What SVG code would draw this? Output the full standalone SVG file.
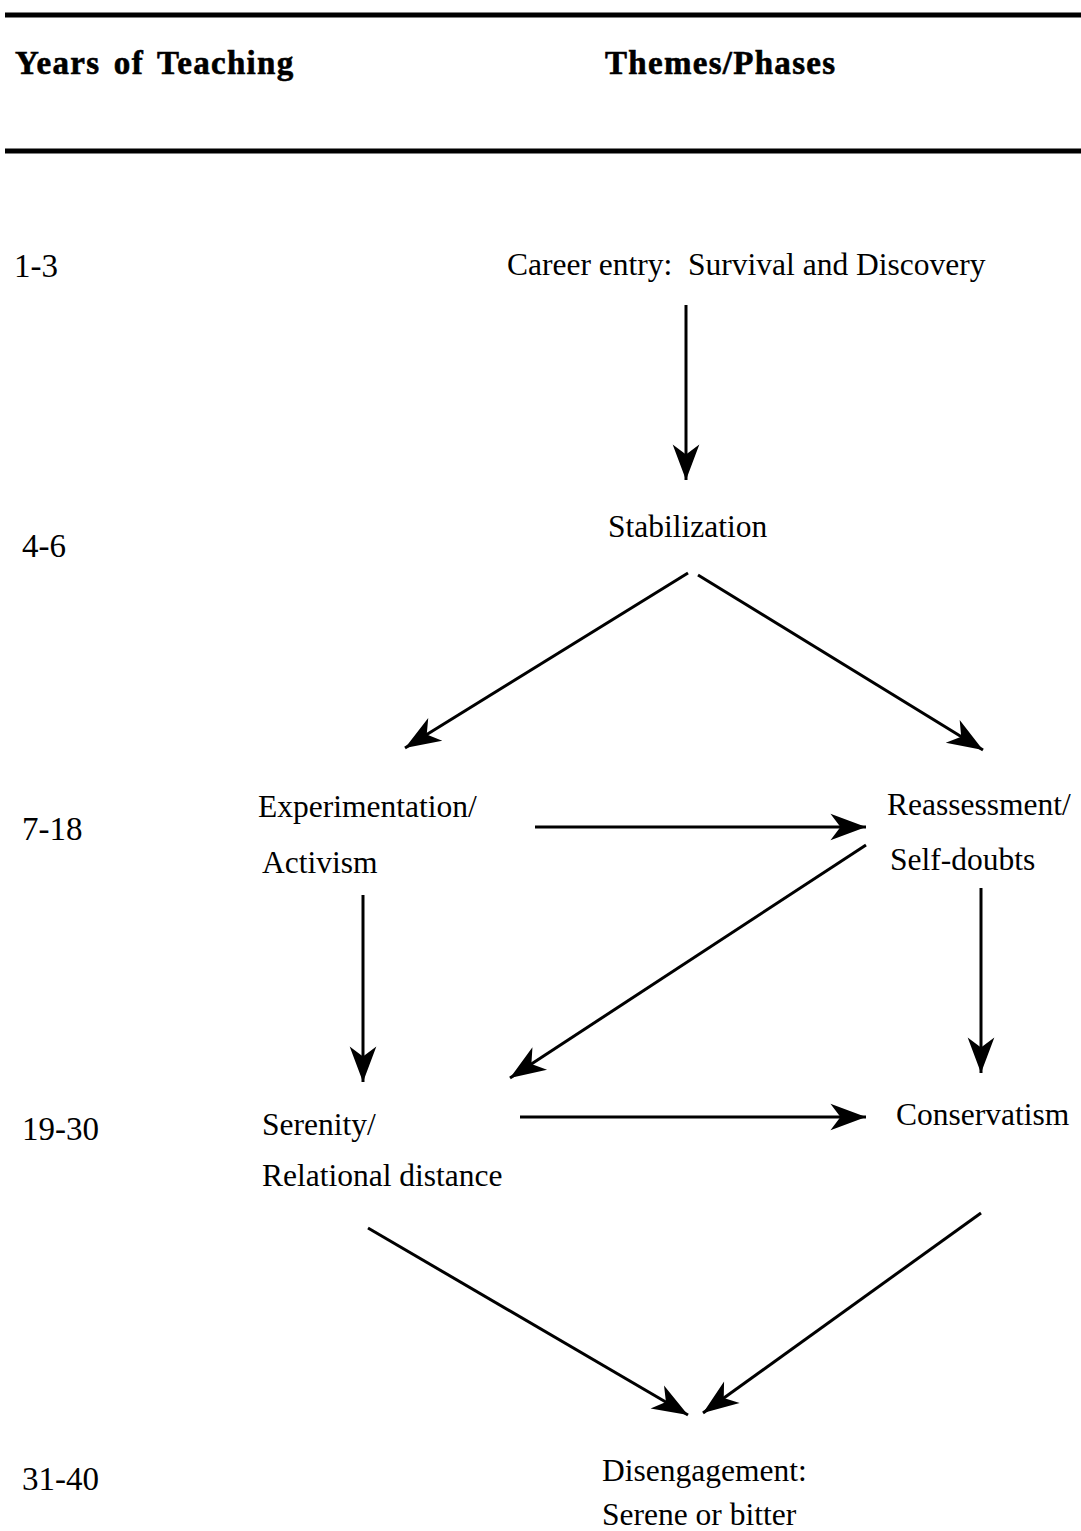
<svg xmlns="http://www.w3.org/2000/svg" width="1081" height="1531" viewBox="0 0 1081 1531">
<style>
.hd{font-family:"Liberation Serif","Times New Roman",serif;font-weight:bold;font-size:33px;letter-spacing:1.3px;word-spacing:4px;fill:#000;stroke:#000;stroke-width:0.6}
.t{font-family:"Liberation Serif","Times New Roman",serif;font-size:31.5px;fill:#000}
.yr{font-family:"Liberation Serif","Times New Roman",serif;font-size:33px;fill:#000}
.rule{stroke:#000;stroke-width:5}
.c{stroke:#000;stroke-width:3;fill:none;marker-end:url(#ah)}
</style>
<defs>
<marker id="ah" markerUnits="userSpaceOnUse" markerWidth="40" markerHeight="30" viewBox="-34 -13 36 26" refX="0" refY="0" orient="auto">
<path d="M0,0 L-32,-12 L-23,0 L-32,12 Z" fill="#000"/>
</marker>
</defs>
<rect width="1081" height="1531" fill="#fff"/>
<g id="header">
<line class="rule" x1="5" y1="15" x2="1081" y2="15"/>
<text class="hd" x="15" y="74">Years of Teaching</text>
<text class="hd" x="605" y="74">Themes/Phases</text>
<line class="rule" x1="5" y1="151" x2="1081" y2="151"/>
</g>
<g id="years">
<text class="yr" x="14" y="277">1-3</text>
<text class="yr" x="22" y="557">4-6</text>
<text class="yr" x="22" y="840">7-18</text>
<text class="yr" x="22" y="1140">19-30</text>
<text class="yr" x="22" y="1490">31-40</text>
</g>
<g id="career-entry"><text class="t" x="507" y="275" xml:space="preserve">Career entry:  Survival and Discovery</text></g>
<g id="stabilization"><text class="t" x="608" y="537">Stabilization</text></g>
<g id="experimentation"><text class="t" x="258" y="817">Experimentation/</text><text class="t" x="262" y="873">Activism</text></g>
<g id="reassessment"><text class="t" x="887" y="815">Reassessment/</text><text class="t" x="890" y="870">Self-doubts</text></g>
<g id="serenity"><text class="t" x="262" y="1135">Serenity/</text><text class="t" x="262" y="1186">Relational distance</text></g>
<g id="conservatism"><text class="t" x="896" y="1125">Conservatism</text></g>
<g id="disengagement"><text class="t" x="602" y="1481">Disengagement:</text><text class="t" x="602" y="1525">Serene or bitter</text></g>
<g id="connectors">
<line class="c" x1="686" y1="305" x2="686" y2="480"/>
<line class="c" x1="688" y1="573" x2="405" y2="748"/>
<line class="c" x1="698" y1="575" x2="983" y2="750"/>
<line class="c" x1="535" y1="827" x2="866" y2="827"/>
<line class="c" x1="866" y1="845" x2="510" y2="1078"/>
<line class="c" x1="363" y1="895" x2="363" y2="1082"/>
<line class="c" x1="981" y1="888" x2="981" y2="1073"/>
<line class="c" x1="520" y1="1117" x2="866" y2="1117"/>
<line class="c" x1="368" y1="1228" x2="688" y2="1415"/>
<line class="c" x1="981" y1="1213" x2="703" y2="1413"/>
</g>
</svg>
